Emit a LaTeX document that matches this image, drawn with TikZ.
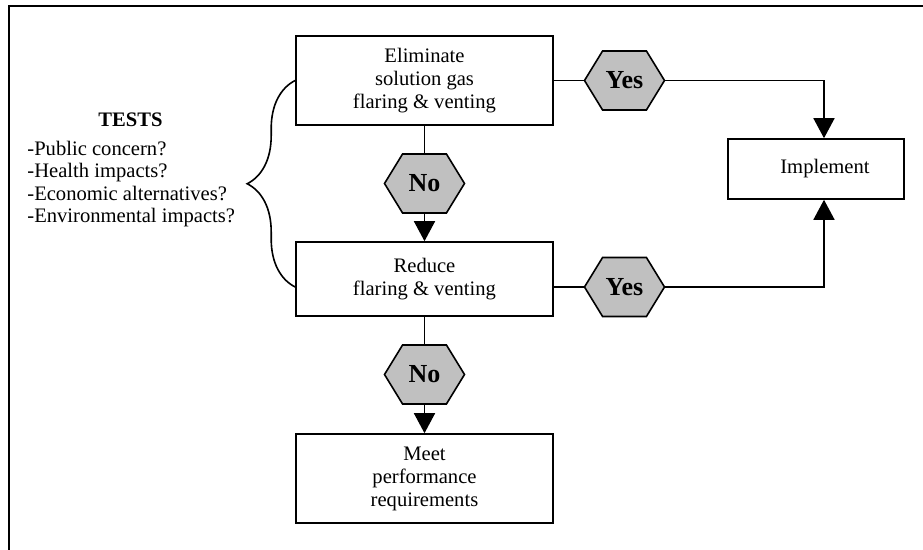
\documentclass[tikz,border=0pt]{standalone}
\usepackage{fontspec}
\setmainfont{Liberation Serif}
\usetikzlibrary{positioning,shapes.symbols,arrows.meta,decorations.pathreplacing}
\definecolor{hexgray}{RGB}{192,192,192}

\begin{document}
\begin{tikzpicture}[x=0.5pt, y=-0.5pt,
   every node/.style={font=\fontsize{10.3}{11.5}\selectfont},
   stepbox/.style={draw, line width=0.8pt, align=center, minimum width=128.5pt, inner sep=0pt},
   answer/.style={signal, signal to=east and west, signal pointer angle=117,
                  draw, line width=0.8pt, fill=hexgray, minimum width=40pt, minimum height=29.5pt,
                  inner sep=0pt, font=\fontsize{13}{15}\selectfont\bfseries},
   flow/.style={line width=0.8pt},
   flowarrow/.style={flow, -{Triangle[width=10.5pt, length=10pt]}}]

\useasboundingbox (0,0) rectangle (923,550);
% frame
\draw[line width=1.4pt] (9,550) -- (9,6) -- (923,6);

% steps
\node[stepbox, minimum height=44.5pt] (elim) at (424.5,80.5) {Eliminate\\ solution gas\\ flaring \& venting};
\node[stepbox, minimum height=37pt] (reduce) at (424.5,279) {Reduce\\ flaring \& venting};
\node[stepbox, minimum height=44.5pt] (meet) at (424.5,478.5) {Meet\\ performance\\ requirements};
\node[stepbox, minimum width=88pt, minimum height=30pt] (impl) at (816,169) {\hspace*{9pt}\raisebox{-3.5pt}{Implement}};

% answers
\node[answer] (yes1) at (624.5,80.5) {Yes};
\node[answer] (no1) at (424.5,183.5) {No};
\node[answer] (yes2) at (624.5,287) {Yes};
\node[answer] (no2) at (424.5,374.5) {No};

% tests
\node[font=\fontsize{10.3}{11.5}\selectfont\bfseries] (tests) at (130.5,120) {TESTS};
\node[align=left, anchor=north west, inner sep=0pt, font=\fontsize{10.3}{11.25}\selectfont]
    (questions) at (27,140.5) {-Public concern?\\ -Health impacts?\\ -Economic alternatives?\\ -Environmental impacts?};

% connectors
\draw[flow] (elim.east) -- (yes1.west);
\draw[flowarrow] (yes1.east) -| ([xshift=4pt]impl.north);
\draw[flow] (elim.south) -- (no1.north);
\draw[flowarrow] (no1.south) -- (reduce.north);
\draw[flow] (reduce.east |- yes2.west) -- (yes2.west);
\draw[flowarrow] (yes2.east) -| ([xshift=4pt]impl.south);
\draw[flow] (reduce.south) -- (no2.north);
\draw[flowarrow] (no2.south) -- (meet.north);
\draw[flow, decorate, decoration={brace, amplitude=24pt}] (reduce.west |- yes2.west) -- (elim.west);

\end{tikzpicture}
\end{document}
